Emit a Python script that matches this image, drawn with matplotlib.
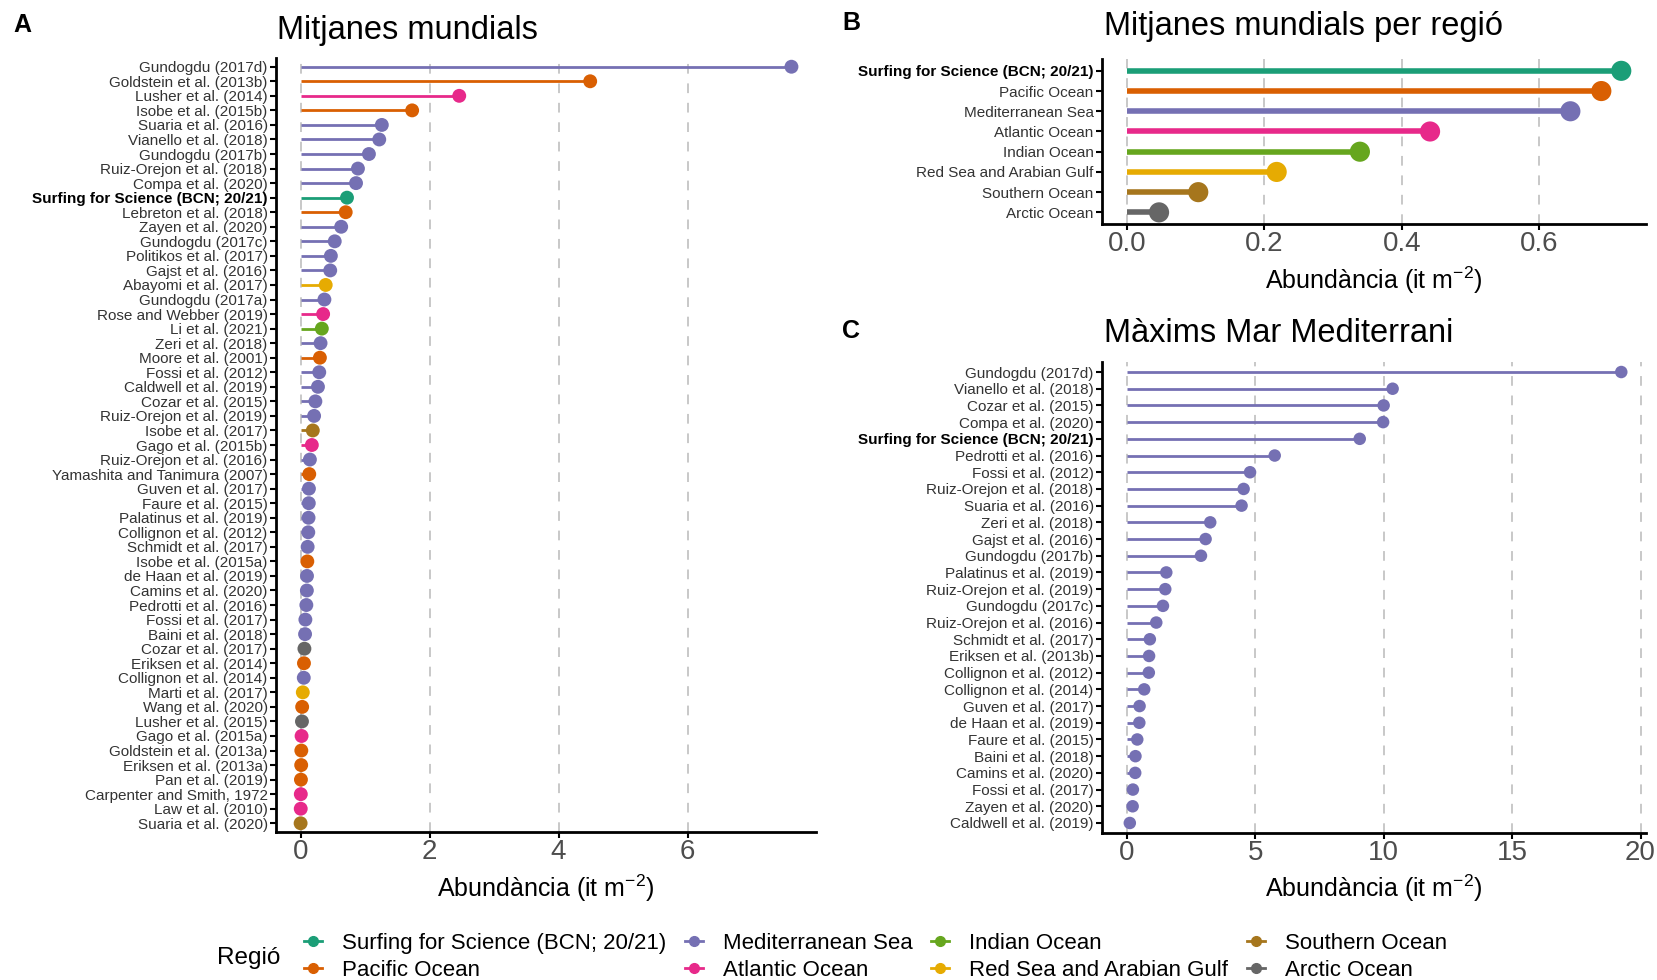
import matplotlib
matplotlib.use("Agg")
import matplotlib.pyplot as plt
from matplotlib.lines import Line2D

plt.rcParams["font.family"] = ["Liberation Sans", "DejaVu Sans"]
plt.rcParams["mathtext.fontset"] = "custom"
plt.rcParams["mathtext.rm"] = "Liberation Sans"
plt.rcParams["mathtext.it"] = "Liberation Sans:italic"

SURF = "Surfing for Science (BCN; 20/21)"

REGIONS = ["Surfing for Science (BCN; 20/21)", "Pacific Ocean", "Mediterranean Sea",
           "Atlantic Ocean", "Indian Ocean", "Red Sea and Arabian Gulf",
           "Southern Ocean", "Arctic Ocean"]
REGION_COLORS = ["#1B9E77", "#D95F02", "#7570B3", "#E7298A",
                 "#66A61E", "#E6AB02", "#A6761D", "#666666"]

# A: global means per study
studies_a = [
    "Gundogdu (2017d)", "Goldstein et al. (2013b)", "Lusher et al. (2014)",
    "Isobe et al. (2015b)", "Suaria et al. (2016)", "Vianello et al. (2018)",
    "Gundogdu (2017b)", "Ruiz-Orejon et al. (2018)", "Compa et al. (2020)",
    SURF, "Lebreton et al. (2018)", "Zayen et al. (2020)", "Gundogdu (2017c)",
    "Politikos et al. (2017)", "Gajst et al. (2016)", "Abayomi et al. (2017)",
    "Gundogdu (2017a)", "Rose and Webber (2019)", "Li et al. (2021)",
    "Zeri et al. (2018)", "Moore et al. (2001)", "Fossi et al. (2012)",
    "Caldwell et al. (2019)", "Cozar et al. (2015)", "Ruiz-Orejon et al. (2019)",
    "Isobe et al. (2017)", "Gago et al. (2015b)", "Ruiz-Orejon et al. (2016)",
    "Yamashita and Tanimura (2007)", "Guven et al. (2017)", "Faure et al. (2015)",
    "Palatinus et al. (2019)", "Collignon et al. (2012)", "Schmidt et al. (2017)",
    "Isobe et al. (2015a)", "de Haan et al. (2019)", "Camins et al. (2020)",
    "Pedrotti et al. (2016)", "Fossi et al. (2017)", "Baini et al. (2018)",
    "Cozar et al. (2017)", "Eriksen et al. (2014)", "Collignon et al. (2014)",
    "Marti et al. (2017)", "Wang et al. (2020)", "Lusher et al. (2015)",
    "Gago et al. (2015a)", "Goldstein et al. (2013a)", "Eriksen et al. (2013a)",
    "Pan et al. (2019)", "Carpenter and Smith, 1972", "Law et al. (2010)",
    "Suaria et al. (2020)",
]
means_a = [
    7.61, 4.49, 2.46, 1.73, 1.26, 1.22, 1.06, 0.89, 0.86, 0.72,
    0.70, 0.63, 0.53, 0.47, 0.46, 0.39, 0.37, 0.35, 0.33, 0.31,
    0.30, 0.29, 0.27, 0.23, 0.21, 0.19, 0.175, 0.145, 0.135, 0.13,
    0.128, 0.124, 0.12, 0.11, 0.105, 0.10, 0.098, 0.09, 0.075, 0.07,
    0.06, 0.053, 0.05, 0.035, 0.025, 0.022, 0.016, 0.012, 0.01, 0.006,
    0.004, 0.003, 0.001,
]
region_a = [
    "Mediterranean Sea", "Pacific Ocean", "Atlantic Ocean", "Pacific Ocean",
    "Mediterranean Sea", "Mediterranean Sea", "Mediterranean Sea", "Mediterranean Sea",
    "Mediterranean Sea", SURF, "Pacific Ocean", "Mediterranean Sea",
    "Mediterranean Sea", "Mediterranean Sea", "Mediterranean Sea", "Red Sea and Arabian Gulf",
    "Mediterranean Sea", "Atlantic Ocean", "Indian Ocean", "Mediterranean Sea",
    "Pacific Ocean", "Mediterranean Sea", "Mediterranean Sea", "Mediterranean Sea",
    "Mediterranean Sea", "Southern Ocean", "Atlantic Ocean", "Mediterranean Sea",
    "Pacific Ocean", "Mediterranean Sea", "Mediterranean Sea", "Mediterranean Sea",
    "Mediterranean Sea", "Mediterranean Sea", "Pacific Ocean", "Mediterranean Sea",
    "Mediterranean Sea", "Mediterranean Sea", "Mediterranean Sea", "Mediterranean Sea",
    "Arctic Ocean", "Pacific Ocean", "Mediterranean Sea", "Red Sea and Arabian Gulf",
    "Pacific Ocean", "Arctic Ocean", "Atlantic Ocean", "Pacific Ocean",
    "Pacific Ocean", "Pacific Ocean", "Atlantic Ocean", "Atlantic Ocean",
    "Southern Ocean",
]

# B: means per region
means_b = [0.719, 0.690, 0.645, 0.441, 0.339, 0.218, 0.104, 0.047]

# C: Mediterranean maxima
studies_c = [
    "Gundogdu (2017d)", "Vianello et al. (2018)", "Cozar et al. (2015)",
    "Compa et al. (2020)", SURF, "Pedrotti et al. (2016)", "Fossi et al. (2012)",
    "Ruiz-Orejon et al. (2018)", "Suaria et al. (2016)", "Zeri et al. (2018)",
    "Gajst et al. (2016)", "Gundogdu (2017b)", "Palatinus et al. (2019)",
    "Ruiz-Orejon et al. (2019)", "Gundogdu (2017c)", "Ruiz-Orejon et al. (2016)",
    "Schmidt et al. (2017)", "Eriksen et al. (2013b)", "Collignon et al. (2012)",
    "Collignon et al. (2014)", "Guven et al. (2017)", "de Haan et al. (2019)",
    "Faure et al. (2015)", "Baini et al. (2018)", "Camins et al. (2020)",
    "Fossi et al. (2017)", "Zayen et al. (2020)", "Caldwell et al. (2019)",
]
max_c = [
    19.25, 10.35, 10.0, 9.98, 9.07, 5.76, 4.8, 4.55, 4.47, 3.25,
    3.07, 2.89, 1.54, 1.50, 1.41, 1.15, 0.90, 0.87, 0.86, 0.68,
    0.50, 0.49, 0.41, 0.34, 0.33, 0.24, 0.23, 0.12,
]

color_of = dict(zip(REGIONS, REGION_COLORS))

W, H = 1657, 980


def fx(px):
    return px / W


def fy(py):
    return 1 - py / H


def lollipop(ax, labels, values, colors, lw, ms, xticks):
    n = len(labels)
    ypos = list(range(n - 1, -1, -1))
    ax.hlines(ypos, 0, values, colors=colors, lw=lw, zorder=2)
    ax.scatter(values, ypos, c=colors, s=ms ** 2, zorder=3, linewidths=0)
    ax.set_yticks(ypos)
    ax.set_yticklabels(labels, fontsize=11, color="#333333")
    for t in ax.get_yticklabels():
        if t.get_text() == SURF:
            t.set_fontweight("bold")
            t.set_color("black")
    vmax = max(values)
    ax.set_xlim(-0.05 * vmax, 1.05 * vmax)
    ax.set_ylim(-0.6, n - 0.4)
    ax.set_xticks(xticks)
    ax.tick_params(axis="x", labelsize=20, labelcolor="#4D4D4D", length=4,
                   width=1.5, pad=1)
    ax.tick_params(axis="y", length=4, width=1.5, pad=2)
    ax.grid(axis="x", ls=(0, (5, 5)), color="#C8C8C8", lw=1.4, zorder=0)
    ax.set_axisbelow(True)
    for s in ["top", "right"]:
        ax.spines[s].set_visible(False)
    for s in ["left", "bottom"]:
        ax.spines[s].set_linewidth(2)
    ax.set_xlabel("Abundància (it m$^{-2}$)", fontsize=18)
    ax.xaxis.label.set_va("center")


fig = plt.figure(figsize=(W / 100, H / 100), dpi=100)

ax_a = fig.add_axes([fx(276), fy(832), fx(816) - fx(276), fy(58) - fy(832)])
ax_b = fig.add_axes([fx(1102), fy(224.5), fx(1646) - fx(1102), fy(58.7) - fy(224.5)])
ax_c = fig.add_axes([fx(1102), fy(833), fx(1646) - fx(1102), fy(362) - fy(833)])

lollipop(ax_a, studies_a, means_a, [color_of[r] for r in region_a], 2.0, 10, [0, 2, 4, 6])
lollipop(ax_b, REGIONS, means_b, REGION_COLORS, 4.0, 14.5, [0.0, 0.2, 0.4, 0.6])
ax_b.set_xticklabels(["0.0", "0.2", "0.4", "0.6"])
lollipop(ax_c, studies_c, max_c, ["#7570B3"] * len(studies_c), 2.0, 9, [0, 5, 10, 15, 20])

ax_a.xaxis.set_label_coords(0.5, -(888 - 832) / 774)
ax_b.xaxis.set_label_coords(0.5, -(280 - 224.5) / 165.8)
ax_c.xaxis.set_label_coords(0.5, -(888 - 833) / 471)

# titles and panel letters
fig.text(fx(277), fy(30.5), "Mitjanes mundials", fontsize=23.5, va="center")
fig.text(fx(1104), fy(27), "Mitjanes mundials per regió", fontsize=23.5, va="center")
fig.text(fx(1104), fy(333), "Màxims Mar Mediterrani", fontsize=23.5, va="center")
fig.text(fx(13), fy(25), "A", fontsize=18, fontweight="bold", va="center")
fig.text(fx(842), fy(23), "B", fontsize=18, fontweight="bold", va="center")
fig.text(fx(842), fy(331), "C", fontsize=18, fontweight="bold", va="center")

# legend
handles = [Line2D([], [], color=c, marker="o", markersize=7, lw=2) for c in REGION_COLORS]
fig.text(fx(217), fy(958), "Regió", fontsize=17.5, va="center")
fig.legend(handles, REGIONS, ncol=4, loc="center left",
           bbox_to_anchor=(fx(295), fy(957)), frameon=False, fontsize=16,
           handlelength=0.8, handletextpad=0.9, columnspacing=0.85,
           labelspacing=0.25, borderpad=0.4, borderaxespad=0)

fig.savefig("out.png", dpi=100)
